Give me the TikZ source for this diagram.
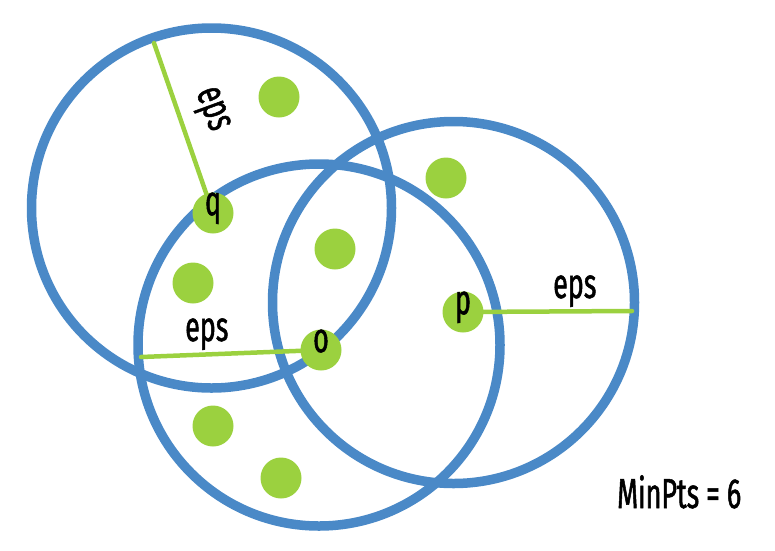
\documentclass[tikz,border=0pt]{standalone}
\usepackage{fontspec}
\newfontfamily\labelfont{Fira Sans}[FakeStretch=0.64, FakeBold=1.2]
\definecolor{ringblue}{HTML}{4A89C7}
\definecolor{ptgreen}{HTML}{9BD13F}
\tikzset{
  ring/.style={draw=ringblue, line width=9.5pt},
  epsline/.style={draw=ptgreen, line width=4.5pt, line cap=round},
  dot/.style={circle, fill=ptgreen, minimum size=41pt, inner sep=0pt},
  ptlabel/.style={dot, font=\labelfont\fontsize{42}{44}\selectfont, text height=1ex, text depth=0pt},
  txt/.style={font=\labelfont\fontsize{42}{44}\selectfont, inner sep=0pt, text=black}
}
\begin{document}
\begin{tikzpicture}[x=1pt, y=-1pt]
\useasboundingbox (0,0) rectangle (775,550);
% circles
\coordinate (cq) at (211.5,208);
\coordinate (co) at (319,345);
\coordinate (cp) at (453.5,302.5);
\draw[ring] (cq) circle[radius=180];
\draw[ring] (co) circle[radius=181];
\draw[ring] (cp) circle[radius=181];
% other points
\node[dot] (d1) at (279,97) {};
\node[dot] (d2) at (446,178) {};
\node[dot] (d3) at (335,249) {};
\node[dot] (d4) at (193,283) {};
\node[dot] (d5) at (213,426) {};
\node[dot] (d6) at (281,478) {};
% point centres and eps ends
\coordinate (qc) at (213,213);
\coordinate (oc) at (321,350);
\coordinate (pc) at (463,312);
\coordinate (qe) at (154,43);
\coordinate (oe) at (141,357);
\coordinate (pe) at (632,311);
\draw[epsline] (qc) -- (qe);
\draw[epsline] (oc) -- (oe);
\draw[epsline] (pc) -- (pe);
% labelled points
\node[ptlabel] (q) at (qc) {q};
\node[ptlabel] (o) at (oc) {o};
\node[ptlabel] (p) at (pc) {p};
% eps labels
\node[txt, anchor=center, rotate=-70] (eq) at (210,110) {eps};
\node[txt, anchor=base west] (eo) at (185,341) {eps};
\node[txt, anchor=base west] (ep) at (553,298) {eps};
\node[txt, anchor=base west] (minpts) at (617,508) {MinPts = 6};
\end{tikzpicture}
\end{document}
